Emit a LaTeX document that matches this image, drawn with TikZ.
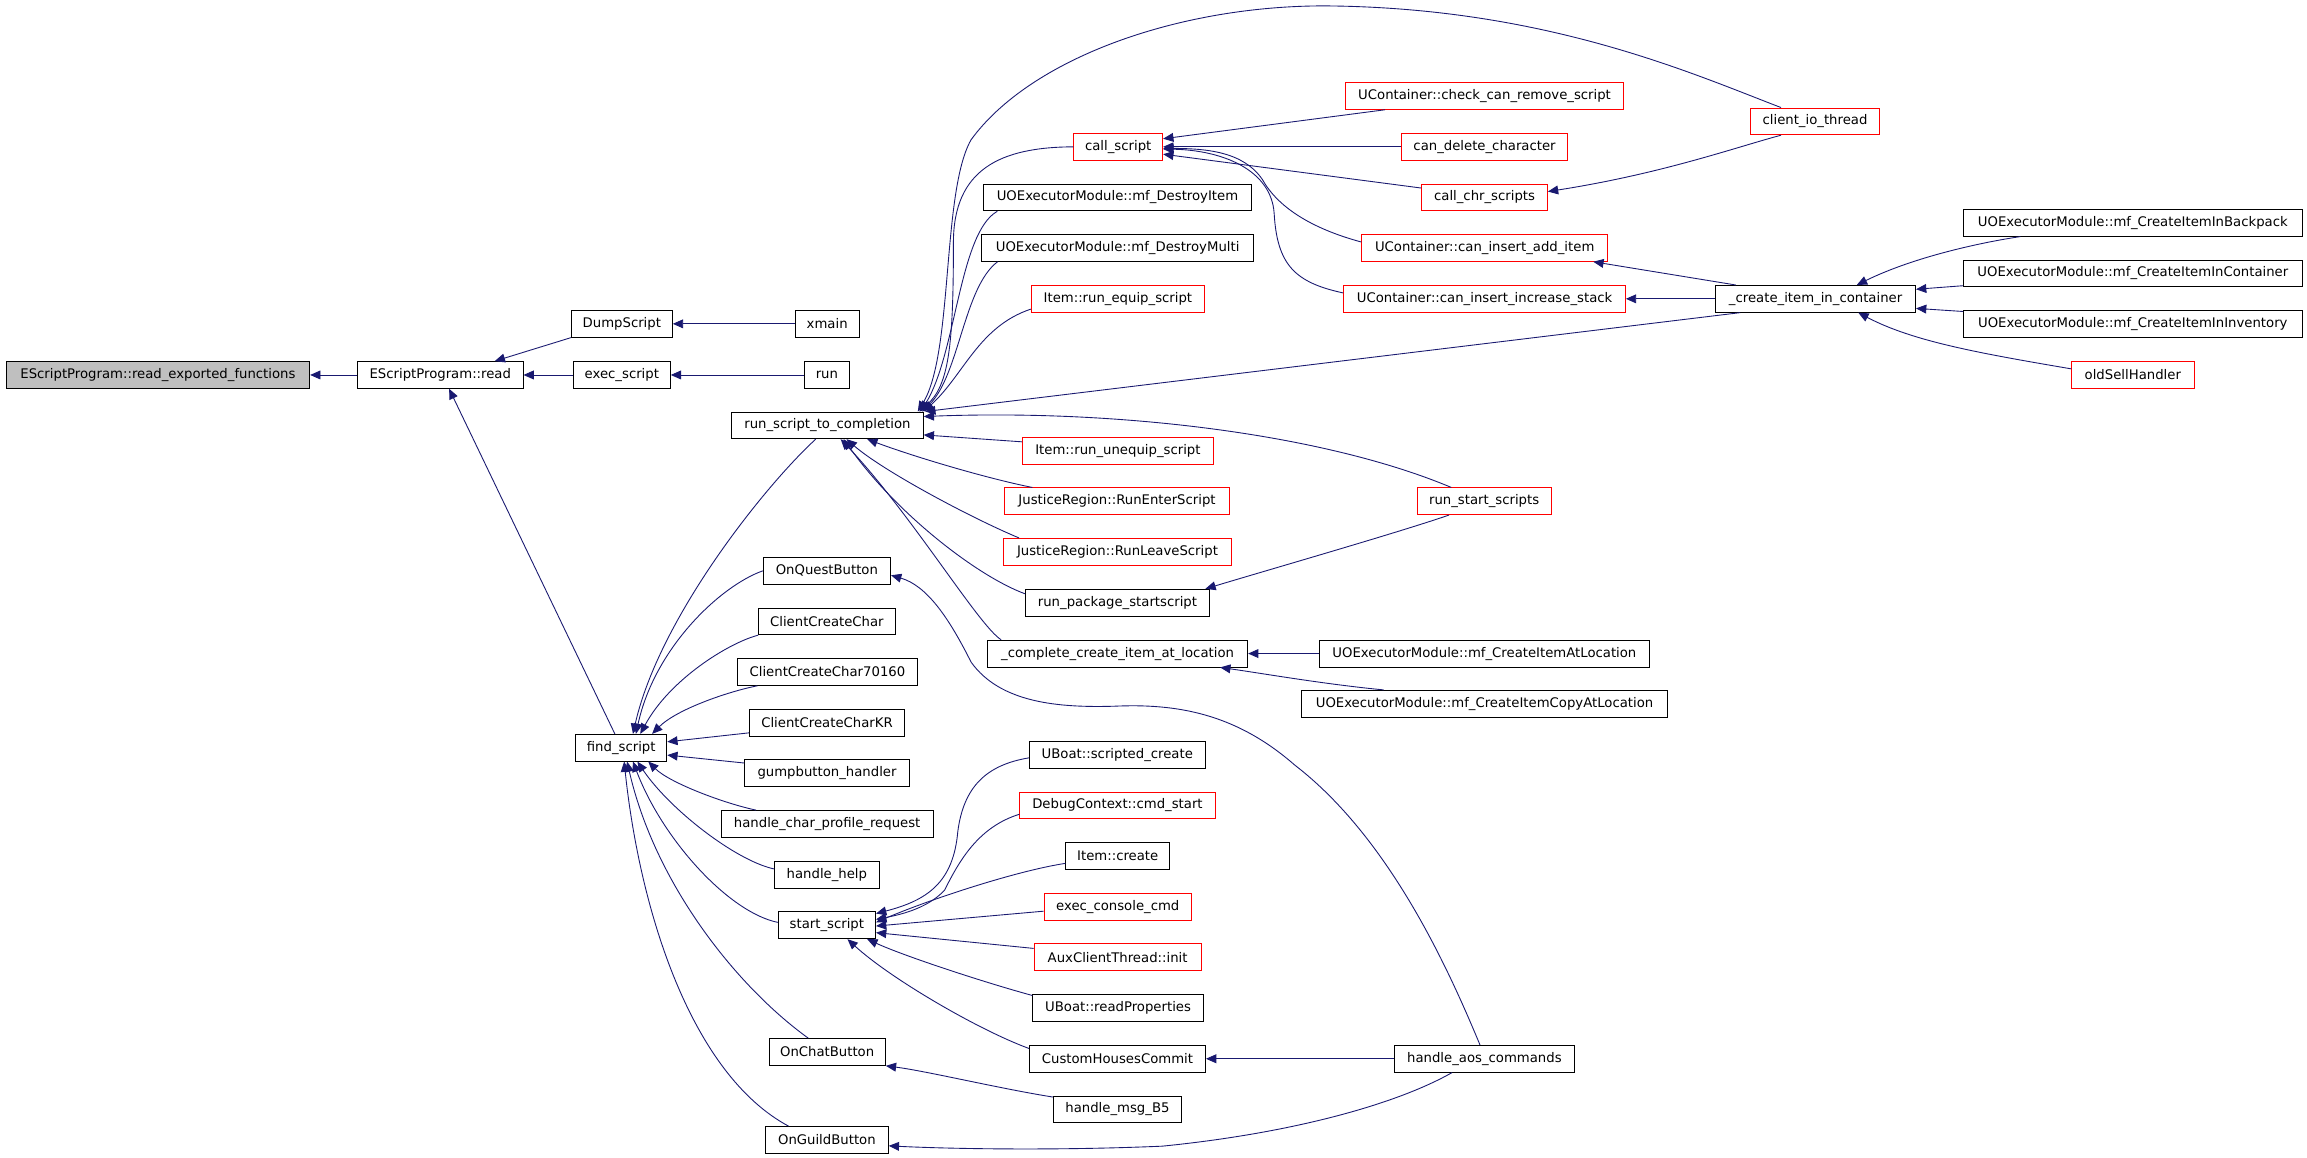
\documentclass[tikz,border=0pt]{standalone}
\usepackage{fontspec}
\setmainfont{DejaVu Sans}
\usetikzlibrary{arrows.meta,calc}
\definecolor{edgeblue}{HTML}{191970}
\definecolor{nodegray}{HTML}{BFBFBF}
\begin{document}
\begin{tikzpicture}[x=1pt,y=-1pt,
  box/.style={draw=black,line width=0.6pt,minimum height=18.2pt,inner sep=0pt,font=\fontsize{9}{10}\selectfont,fill=white},
  rbox/.style={box,draw=red},
  conn/.style={draw=edgeblue,line width=0.6pt,-{Triangle[length=7pt,width=6pt]}}]
\fill[white] (0,0) rectangle (1568,787);
\useasboundingbox (0,0) rectangle (1568,787);
% nodes
\node[box,fill=nodegray,minimum width=206.3pt] (ref) at (107.35,254.85) {EScriptProgram::read\_exported\_functions};
\node[box,minimum width=112.5pt] (read) at (299.25,254.85) {EScriptProgram::read};
\node[box,minimum width=68.7pt] (dump) at (422.65,220.1) {DumpScript};
\node[box,minimum width=65.9pt] (execs) at (422.65,254.85) {exec\_script};
\node[box,minimum width=43.4pt] (xmain) at (562.2,220.1) {xmain};
\node[box,minimum width=30.4pt] (run) at (562,254.85) {run};
\node[box,minimum width=62pt] (find) at (422.2,508.2) {find\_script};
\node[box,minimum width=130.2pt] (rstc) at (562.4,289.1) {run\_script\_to\_completion};
\node[rbox,minimum width=60.5pt] (callscript) at (760,99.8) {call\_script};
\node[box,minimum width=182.7pt] (destroyitem) at (759.5,134.2) {UOExecutorModule::mf\_DestroyItem};
\node[box,minimum width=184.5pt] (destroymulti) at (759.6,168.5) {UOExecutorModule::mf\_DestroyMulti};
\node[rbox,minimum width=117.8pt] (equip) at (759.8,203.1) {Item::run\_equip\_script};
\node[rbox,minimum width=129.6pt] (unequip) at (759.8,306.3) {Item::run\_unequip\_script};
\node[rbox,minimum width=152.5pt] (enter) at (759.2,340.7) {JusticeRegion::RunEnterScript};
\node[rbox,minimum width=155.3pt] (leave) at (759.5,375) {JusticeRegion::RunLeaveScript};
\node[box,minimum width=124.9pt] (pkg) at (759.5,409.6) {run\_package\_startscript};
\node[box,minimum width=176.8pt] (complete) at (759.6,444.2) {\_complete\_create\_item\_at\_location};
\node[box,minimum width=224.3pt] (atloc) at (1008.9,444.2) {UOExecutorModule::mf\_CreateItemAtLocation};
\node[box,minimum width=248.5pt] (copyloc) at (1009,478.3) {UOExecutorModule::mf\_CreateItemCopyAtLocation};
\node[rbox,minimum width=91.2pt] (startscripts) at (1008.7,340.7) {run\_start\_scripts};
\node[rbox,minimum width=188.7pt] (checkremove) at (1009,65.2) {UContainer::check\_can\_remove\_script};
\node[rbox,minimum width=112.7pt] (candelete) at (1009,99.8) {can\_delete\_character};
\node[rbox,minimum width=85.5pt] (chr) at (1009,134.2) {call\_chr\_scripts};
\node[rbox,minimum width=167pt] (additem) at (1009.1,168.5) {UContainer::can\_insert\_add\_item};
\node[rbox,minimum width=191.5pt] (incstack) at (1009,203.1) {UContainer::can\_insert\_increase\_stack};
\node[rbox,minimum width=87.6pt] (clientio) at (1233.6,82.5) {client\_io\_thread};
\node[box,minimum width=135.9pt] (createin) at (1234,203.1) {\_create\_item\_in\_container};
\node[box,minimum width=230.2pt] (backpack) at (1449.6,151.4) {UOExecutorModule::mf\_CreateItemInBackpack};
\node[box,minimum width=230.2pt] (incontainer) at (1449.6,185.8) {UOExecutorModule::mf\_CreateItemInContainer};
\node[box,minimum width=230.2pt] (ininventory) at (1449.6,220.1) {UOExecutorModule::mf\_CreateItemInInventory};
\node[rbox,minimum width=83.1pt] (oldsell) at (1449.6,254.7) {oldSellHandler};
\node[box,minimum width=86.6pt] (onquest) at (562,388) {OnQuestButton};
\node[box,minimum width=92.8pt] (ccc) at (562,422.3) {ClientCreateChar};
\node[box,minimum width=122.6pt] (ccc70160) at (562.4,456.7) {ClientCreateChar70160};
\node[box,minimum width=105.7pt] (ccckr) at (562.1,491.1) {ClientCreateCharKR};
\node[box,minimum width=111.8pt] (gump) at (562.1,525.6) {gumpbutton\_handler};
\node[box,minimum width=144.1pt] (profile) at (562.2,560) {handle\_char\_profile\_request};
\node[box,minimum width=71pt] (help) at (562,594.6) {handle\_help};
\node[box,minimum width=66.2pt] (startscript) at (562,628.9) {start\_script};
\node[box,minimum width=79.1pt] (onchat) at (562.2,715) {OnChatButton};
\node[box,minimum width=83.5pt] (onguild) at (562,774.8) {OnGuildButton};
\node[box,minimum width=119.7pt] (boatcreate) at (759.4,513.1) {UBoat::scripted\_create};
\node[rbox,minimum width=132.6pt] (cmdstart) at (759.5,547.4) {DebugContext::cmd\_start};
\node[box,minimum width=70.6pt] (itemcreate) at (759.7,581.8) {Item::create};
\node[rbox,minimum width=100.2pt] (consolecmd) at (759.7,616.3) {exec\_console\_cmd};
\node[rbox,minimum width=113.5pt] (auxinit) at (759.6,650.6) {AuxClientThread::init};
\node[box,minimum width=115.8pt] (readprops) at (759.9,685) {UBoat::readProperties};
\node[box,minimum width=119.7pt] (customhouses) at (759.5,719.6) {CustomHousesCommit};
\node[box,minimum width=122.6pt] (aos) at (1008.9,719.6) {handle\_aos\_commands};
\node[box,minimum width=87.3pt] (msgb5) at (759.5,754) {handle\_msg\_B5};
% edges
\draw[conn] (read.west) -- (ref.east);
\draw[conn] (dump.south west) -- ($(read.north)+(37,0)$);
\draw[conn] (execs.west) -- (read.east);
\draw[conn] (xmain.west) -- (dump.east);
\draw[conn] (run.west) -- (execs.east);
\draw[conn] ($(find.north)+(-4.3,0)$) -- ($(read.south)+(6,0)$);
\draw[conn] ($(rstc.south)+(-8,0)$) .. controls (520,330) and (448,420) .. ($(find.north)+(8,0)$);
\draw[conn] (onquest.west) .. controls (490,398) and (445,440) .. ($(find.north)+(10,0)$);
\draw[conn] (ccc.south west) .. controls (495,437) and (455,462) .. ($(find.north)+(13,0)$);
\draw[conn] ($(ccc70160.south west)+(14,0)$) .. controls (495,470) and (460,482) .. ($(find.north)+(21,0)$);
\draw[conn] ($(ccckr.west)+(0,7)$) -- ($(find.east)+(0,-4)$);
\draw[conn] ($(gump.west)+(0,-7)$) -- ($(find.east)+(0,5)$);
\draw[conn] ($(profile.north west)+(24,0)$) .. controls (492,546) and (455,532) .. ($(find.south)+(18.4,0)$);
\draw[conn] ($(help.west)+(0,-4)$) .. controls (500,585) and (455,550) .. ($(find.south)+(11,0)$);
\draw[conn] ($(startscript.west)+(0,-2)$) .. controls (495,620) and (450,570) .. ($(find.south)+(8,0)$);
\draw[conn] ($(onchat.north west)+(27,0)$) .. controls (500,670) and (445,600) .. ($(find.south)+(4,0)$);
\draw[conn] ($(onguild.north west)+(16,0)$) .. controls (470,730) and (435,620) .. ($(find.south)+(2,0)$);
\draw[conn] (callscript.west) .. controls (680,100) and (648,115) .. (648,165) .. controls (648,235) and (645,262) .. ($(rstc.north east)+(-3,0)$);
\draw[conn] ($(destroyitem.south west)+(10,0)$) .. controls (652,158) and (650,240) .. ($(rstc.north east)+(-2,0)$);
\draw[conn] ($(destroymulti.south west)+(11,0)$) .. controls (655,195) and (652,255) .. ($(rstc.north east)+(-1,0)$);
\draw[conn] ($(equip.west)+(0,7)$) .. controls (665,222) and (655,255) .. (rstc.north east);
\draw[conn] ($(clientio.north west)+(21,0)$) .. controls (1150,50) and (1050,5) .. (900,4) .. controls (800,4) and (700,40) .. (660,95) .. controls (640,130) and (648,240) .. ($(rstc.north east)+(-4,0)$);
\draw[conn] ($(createin.south west)+(17,0)$) -- ($(rstc.north east)+(1,0)$);
\draw[conn] ($(startscripts.north)+(-22.3,0)$) .. controls (900,295) and (760,278) .. ($(rstc.east)+(0,-6)$);
\draw[conn] ($(unequip.west)+(0,-6)$) -- ($(rstc.east)+(0,6.5)$);
\draw[conn] ($(enter.north west)+(19,0)$) .. controls (670,325) and (620,310) .. ($(rstc.south)+(27,0)$);
\draw[conn] ($(leave.north west)+(11,0)$) .. controls (660,352) and (600,320) .. ($(rstc.south)+(13,0)$);
\draw[conn] ($(pkg.west)+(0,-6)$) .. controls (665,392) and (610,350) .. ($(rstc.south)+(11,0)$);
\draw[conn] ($(complete.north west)+(9.5,0)$) .. controls (665,425) and (620,350) .. ($(rstc.south)+(9,0)$);
\draw[conn] ($(checkremove.south west)+(27,0)$) -- ($(callscript.east)+(0,-5.5)$);
\draw[conn] (candelete.west) -- (callscript.east);
\draw[conn] ($(chr.north west)+(0,3)$) -- ($(callscript.east)+(0,5)$);
\draw[conn] ($(additem.west)+(0,-4)$) .. controls (890,155) and (868,140) .. (858,122) .. controls (845,103) and (820,101) .. ($(callscript.east)+(0,1)$);
\draw[conn] ($(incstack.west)+(0,-4)$) .. controls (880,192) and (868,180) .. (866,145) .. controls (864,115) and (830,102) .. ($(callscript.east)+(0,1.5)$);
\draw[conn] ($(clientio.south west)+(21,0)$) .. controls (1180,100) and (1130,118) .. ($(chr.east)+(0,-4)$);
\draw[conn] ($(createin.north west)+(14,0)$) -- ($(additem.south east)+(-10,0)$);
\draw[conn] (createin.west) -- (incstack.east);
\draw[conn] ($(backpack.south west)+(39,0)$) .. controls (1345,165) and (1300,175) .. ($(createin.north)+(28,0)$);
\draw[conn] ($(incontainer.south west)+(0,-1)$) -- ($(createin.east)+(0,-6.5)$);
\draw[conn] ($(ininventory.north west)+(0,1)$) -- ($(createin.east)+(0,6.5)$);
\draw[conn] ($(oldsell.west)+(0,-4)$) .. controls (1345,240) and (1300,232) .. ($(createin.south)+(29,0)$);
\draw[conn] (atloc.west) -- (complete.east);
\draw[conn] ($(copyloc.north west)+(56,0)$) .. controls (900,465) and (860,458) .. ($(complete.south east)+(-19,0)$);
\draw[conn] ($(startscripts.south west)+(22,0)$) .. controls (950,362) and (870,385) .. ($(pkg.north east)+(-3,0)$);
\draw[conn] ($(aos.north)+(-3,0)$) .. controls (985,660) and (945,570) .. (880,520) .. controls (840,485) and (800,478) .. (757,480) .. controls (720,481) and (680,478) .. (660,450) .. controls (645,420) and (630,398) .. ($(onquest.east)+(0,3)$);
\draw[conn] (aos.west) -- (customhouses.east);
\draw[conn] ($(aos.south)+(-22,0)$) .. controls (950,750) and (880,770) .. (790,779) .. controls (720,782) and (650,781) .. ($(onguild.east)+(0,4)$);
\draw[conn] ($(msgb5.north west)+(0,1)$) .. controls (680,740) and (630,728) .. (onchat.south east);
\draw[conn] ($(boatcreate.west)+(0,2)$) .. controls (670,520) and (655,535) .. (651,565) .. controls (648,600) and (630,612) .. ($(startscript.east)+(0,-8)$);
\draw[conn] ($(cmdstart.west)+(0,6)$) .. controls (665,562) and (652,585) .. (642,605) .. controls (630,618) and (610,622) .. ($(startscript.east)+(0,-4)$);
\draw[conn] ($(itemcreate.west)+(0,5)$) .. controls (690,592) and (630,612) .. ($(startscript.east)+(0,-2)$);
\draw[conn] ($(consolecmd.west)+(0,3)$) -- ($(startscript.east)+(0,0.5)$);
\draw[conn] ($(auxinit.west)+(0,-6)$) -- ($(startscript.east)+(0,5)$);
\draw[conn] ($(readprops.north west)+(0,1)$) .. controls (670,668) and (615,650) .. ($(startscript.south east)+(-6,0)$);
\draw[conn] ($(customhouses.west)+(0,-7)$) .. controls (665,700) and (605,665) .. ($(startscript.south)+(14,0)$);
\end{tikzpicture}
\end{document}
